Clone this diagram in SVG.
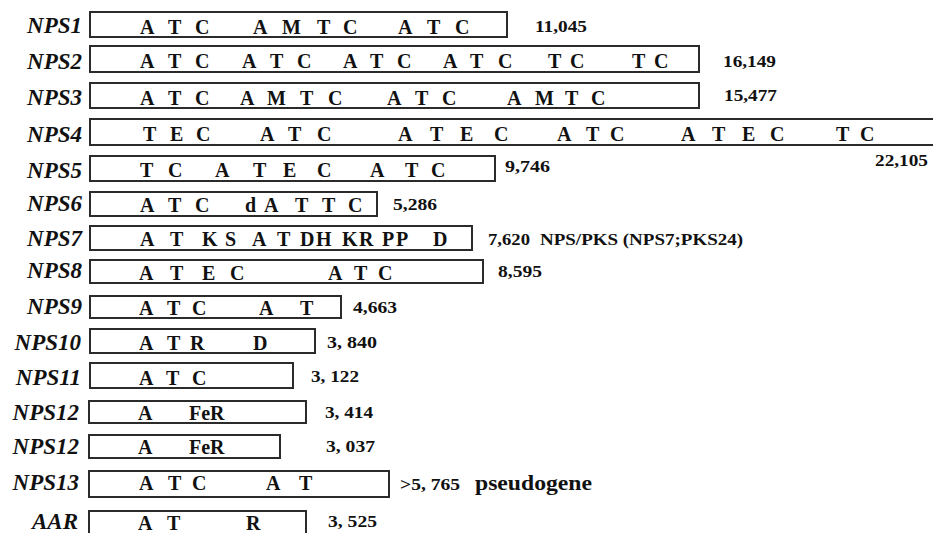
<svg xmlns="http://www.w3.org/2000/svg" width="933" height="533" viewBox="0 0 933 533" font-family="Liberation Serif, Times New Roman, Times, serif">
  <style>
    .bg { fill: #ffffff; }
    .gene { fill: #ffffff; stroke: #2b2b2b; stroke-width: 2; }
    text { font-family: "Liberation Serif", "Times New Roman", Times, serif; font-weight: 700; fill: #111; }
    .name { font-style: italic; font-size: 23px; text-anchor: end; }
    .dom { font-size: 20px; }
    .len { font-size: 17px; }
    .note { font-size: 21px; }
  </style>
  <rect class="bg" x="0" y="0" width="933" height="533"/>

  <!-- each gene: name, domain box, domain letters, length in bp -->
  <g id="nps1">
    <text class="name" x="82" y="33">NPS1</text>
    <rect class="gene" x="90" y="12" width="417" height="25"/>
    <text class="dom" x="140 168 195 253 282 317 343 398 427 455" y="34">ATCAMTCATC</text>
    <text class="len" x="535" y="32" textLength="52" lengthAdjust="spacingAndGlyphs">11,045</text>
  </g>

  <g id="nps2">
    <text class="name" x="82" y="69">NPS2</text>
    <rect class="gene" x="90" y="46" width="609" height="26"/>
    <text class="dom" x="140 168 195 242 270 297 343 370 397 443 470 498 548 570 632 654" y="68">ATCATCATCATCTCTC</text>
    <text class="len" x="723" y="67" textLength="53" lengthAdjust="spacingAndGlyphs">16,149</text>
  </g>

  <g id="nps3">
    <text class="name" x="82" y="105">NPS3</text>
    <rect class="gene" x="90" y="83" width="609" height="25"/>
    <text class="dom" x="140 168 195 240 267 300 328 387 415 442 507 535 565 591" y="105">ATCAMTCATCAMTC</text>
    <text class="len" x="724" y="101" textLength="53" lengthAdjust="spacingAndGlyphs">15,477</text>
  </g>

  <g id="nps4">
    <text class="name" x="82" y="142">NPS4</text>
    <rect class="gene" x="90" y="119" width="860" height="26"/>
    <text class="dom" x="143 170 196 260 288 317 398 430 460 494 557 586 610 681 712 742 770 836 860" y="141">TECATCATECATCATECTC</text>
    <text class="len" x="875" y="166" textLength="53" lengthAdjust="spacingAndGlyphs">22,105</text>
  </g>

  <g id="nps5">
    <text class="name" x="82" y="178">NPS5</text>
    <rect class="gene" x="90" y="156" width="405" height="25"/>
    <text class="dom" x="140 168 215 253 283 317 370 405 431" y="177">TCATECATC</text>
    <text class="len" x="505" y="172" textLength="45" lengthAdjust="spacingAndGlyphs">9,746</text>
  </g>

  <g id="nps6">
    <text class="name" x="82" y="211">NPS6</text>
    <rect class="gene" x="90" y="192" width="287" height="24"/>
    <text class="dom" x="140 168 195 245 264 295 322 348" y="212">ATCdATTC</text>
    <text class="len" x="393" y="210" textLength="44" lengthAdjust="spacingAndGlyphs">5,286</text>
  </g>

  <g id="nps7">
    <text class="name" x="82" y="246">NPS7</text>
    <rect class="gene" x="90" y="226" width="382" height="24"/>
    <text class="dom" x="140 170 202 225 252 277 300 316 342 359 382 396 433" y="246">ATKSATDHKRPPD</text>
    <text class="len" x="488" y="245" textLength="42" lengthAdjust="spacingAndGlyphs">7,620</text>
    <text class="len" x="540" y="245" textLength="203" lengthAdjust="spacingAndGlyphs">NPS/PKS (NPS7;PKS24)</text>
  </g>

  <g id="nps8">
    <text class="name" x="82" y="278">NPS8</text>
    <rect class="gene" x="90" y="260" width="393" height="23"/>
    <text class="dom" x="139 170 202 230 328 354 378" y="280">ATECATC</text>
    <text class="len" x="498" y="277" textLength="44" lengthAdjust="spacingAndGlyphs">8,595</text>
  </g>

  <g id="nps9">
    <text class="name" x="82" y="314">NPS9</text>
    <rect class="gene" x="90" y="296" width="251" height="22"/>
    <text class="dom" x="139 167 192 259 300" y="315">ATCAT</text>
    <text class="len" x="353" y="313" textLength="44" lengthAdjust="spacingAndGlyphs">4,663</text>
  </g>

  <g id="nps10">
    <text class="name" x="81" y="350">NPS10</text>
    <rect class="gene" x="90" y="329" width="225" height="24"/>
    <text class="dom" x="139 167 190 253" y="350">ATRD</text>
    <text class="len" x="327" y="348" textLength="50" lengthAdjust="spacingAndGlyphs">3, 840</text>
  </g>

  <g id="nps11">
    <text class="name" x="81" y="385">NPS11</text>
    <rect class="gene" x="90" y="363" width="203" height="25"/>
    <text class="dom" x="139 166 192" y="385">ATC</text>
    <text class="len" x="311" y="382" textLength="48" lengthAdjust="spacingAndGlyphs">3, 122</text>
  </g>

  <g id="nps12a">
    <text class="name" x="79" y="420">NPS12</text>
    <rect class="gene" x="89" y="401" width="217" height="22"/>
    <text class="dom" x="138" y="420">A</text>
    <text class="dom" x="189" y="420">FeR</text>
    <text class="len" x="325" y="418" textLength="48" lengthAdjust="spacingAndGlyphs">3, 414</text>
  </g>

  <g id="nps12b">
    <text class="name" x="79" y="454">NPS12</text>
    <rect class="gene" x="89" y="435" width="191" height="23"/>
    <text class="dom" x="138" y="454">A</text>
    <text class="dom" x="189" y="454">FeR</text>
    <text class="len" x="326" y="452" textLength="49" lengthAdjust="spacingAndGlyphs">3, 037</text>
  </g>

  <g id="nps13">
    <text class="name" x="79" y="490">NPS13</text>
    <rect class="gene" x="89" y="471" width="300" height="26"/>
    <text class="dom" x="139 168 192 266 299" y="490">ATCAT</text>
    <text class="len" x="400" y="490" textLength="60" lengthAdjust="spacingAndGlyphs">&gt;5, 765</text>
    <text class="note" x="475" y="490" textLength="117" lengthAdjust="spacingAndGlyphs">pseudogene</text>
  </g>

  <g id="aar">
    <text class="name" x="78" y="529">AAR</text>
    <rect class="gene" x="89" y="511" width="217" height="30"/>
    <text class="dom" x="138 167 246" y="530">ATR</text>
    <text class="len" x="328" y="527" textLength="49" lengthAdjust="spacingAndGlyphs">3, 525</text>
  </g>
</svg>
